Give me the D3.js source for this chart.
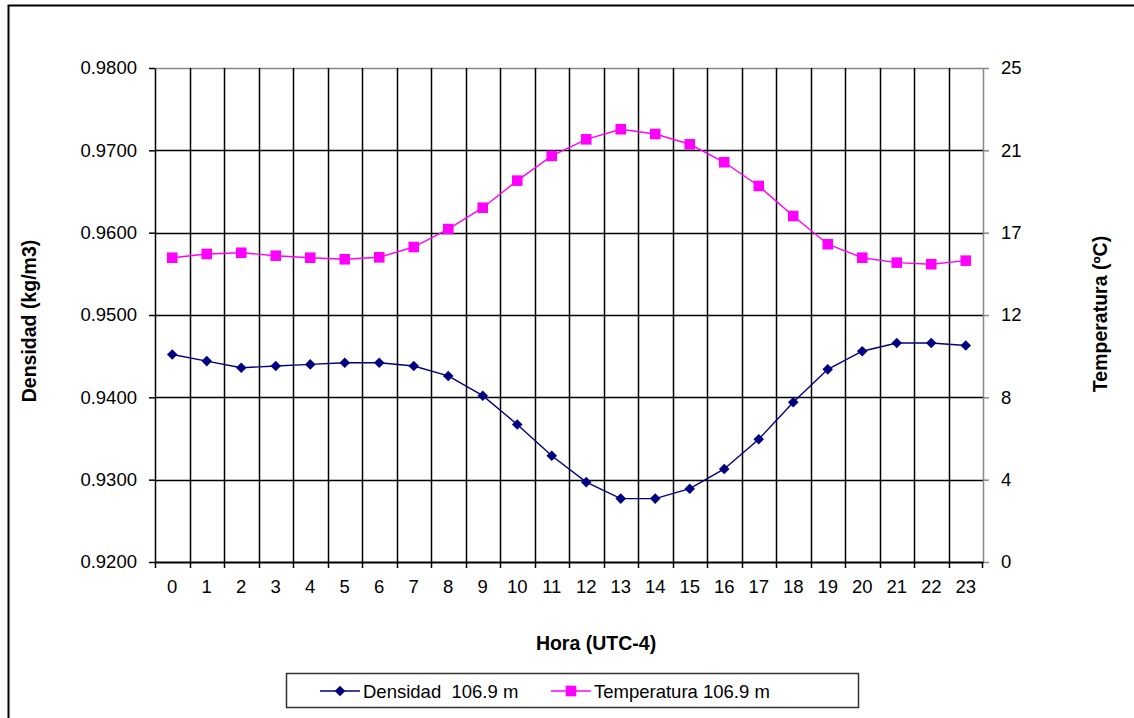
<!doctype html>
<html>
<head>
<meta charset="utf-8">
<style>
    body { margin: 0; background: #fff; font-family: 'Liberation Sans', Arial, sans-serif; }
    svg text { fill: #000; font-family: 'Liberation Sans', Arial, sans-serif; }
    .title { font-size: 19.5px; font-weight: bold; }
    .legend text { font-size: 18.5px; }
</style>
<script src="https://d3js.org/d3.v7.min.js"></script>
</head>
<body>
<svg width="1134" height="718"></svg>
<script>
    // hours 0..23
    const hours = d3.range(0, 24);
    const densidad = [0.9452, 0.9444, 0.9436, 0.9438, 0.9440, 0.9442, 0.9442, 0.9438, 0.9426,
        0.9402, 0.9367, 0.9329, 0.9297, 0.9277, 0.9277, 0.9289, 0.9313, 0.9349,
        0.9394, 0.9434, 0.9456, 0.9466, 0.9466, 0.9463];
    const temperatura = [15.40, 15.59, 15.65, 15.50, 15.40, 15.32, 15.42, 15.94, 16.85,
        17.93, 19.30, 20.55, 21.39, 21.90, 21.66, 21.14, 20.23, 19.03,
        17.51, 16.08, 15.40, 15.15, 15.07, 15.25];
    const leftTicks = [0.92, 0.93, 0.94, 0.95, 0.96, 0.97, 0.98];
    // right axis: 25/6 steps, Excel shows them rounded
    const rightTicks = [0, 25 / 6, 50 / 6, 75 / 6, 100 / 6, 125 / 6, 25];
    const rightLabels = ['0', '4', '8', '12', '17', '21', '25'];

    const svg = d3.select('svg');
    const pLeft = 155, pRight = 983, pTop = 68, pBottom = 562;

    // outer frame (cut off on the right and bottom)
    svg.append('rect')
        .attr('x', 8.5).attr('y', 5.5)
        .attr('width', 1140).attr('height', 730)
        .attr('fill', 'none').attr('stroke', '#000').attr('stroke-width', 2);

    const x = d3.scaleBand().domain(hours).range([pLeft, pRight]);
    const yL = d3.scaleLinear().domain([0.92, 0.98]).range([pBottom, pTop]);
    const yR = d3.scaleLinear().domain([0, 25]).range([pBottom, pTop]);

    // horizontal grid
    svg.append('g')
        .selectAll('line')
        .data(leftTicks.slice(1, -1))
        .join('line')
        .attr('x1', pLeft).attr('x2', pRight)
        .attr('y1', d => Math.round(yL(d)) + 0.5).attr('y2', d => Math.round(yL(d)) + 0.5)
        .attr('stroke', '#000').attr('stroke-width', 1.5);
    svg.append('line')
        .attr('x1', pLeft).attr('x2', pRight)
        .attr('y1', pTop + 0.5).attr('y2', pTop + 0.5)
        .attr('stroke', '#888').attr('stroke-width', 1.5);

    // vertical grid at category boundaries
    svg.append('g')
        .selectAll('line')
        .data(hours.slice(1))
        .join('line')
        .attr('x1', d => Math.round(x(d)) + 0.5).attr('x2', d => Math.round(x(d)) + 0.5)
        .attr('y1', pTop).attr('y2', pBottom + 6)
        .attr('stroke', '#000').attr('stroke-width', 1.5);

    // left axis
    const axL = svg.append('g')
        .attr('transform', `translate(${pLeft},0)`)
        .call(d3.axisLeft(yL).tickValues(leftTicks).tickFormat(d3.format('.4f')).tickSizeInner(6).tickSizeOuter(0).tickPadding(12));
    axL.selectAll('path, line').attr('stroke', '#000').attr('stroke-width', 1.5);

    // right axis
    const axR = svg.append('g')
        .attr('transform', `translate(${pRight},0)`)
        .call(d3.axisRight(yR).tickValues(rightTicks).tickFormat((d, i) => rightLabels[i]).tickSizeInner(6).tickSizeOuter(0).tickPadding(12));
    axR.selectAll('path, line').attr('stroke', '#888').attr('stroke-width', 1.5);

    // bottom axis
    const axB = svg.append('g')
        .attr('transform', `translate(0,${pBottom})`)
        .call(d3.axisBottom(x).tickSize(0).tickPadding(18));
    axB.select('path').attr('stroke', '#000').attr('stroke-width', 2);
    axB.selectAll('.edge')
        .data([pLeft + 0.5, pRight - 0.5])
        .join('line')
        .attr('x1', d => d).attr('x2', d => d).attr('y1', 0).attr('y2', 6)
        .attr('stroke', '#000').attr('stroke-width', 1.5);

    svg.selectAll('.tick text').attr('fill', '#000')
        .style('font-size', '18.5px')
        .style('font-family', "'Liberation Sans', Arial, sans-serif");

    // axis titles
    svg.append('text').attr('class', 'title')
        .attr('transform', `translate(36,321) rotate(-90)`)
        .attr('text-anchor', 'middle').text('Densidad (kg/m3)');
    svg.append('text').attr('class', 'title')
        .attr('transform', `translate(1107,314) rotate(-90)`)
        .attr('text-anchor', 'middle').text('Temperatura (ºC)');
    svg.append('text').attr('class', 'title')
        .attr('x', 596).attr('y', 650)
        .attr('text-anchor', 'middle').text('Hora (UTC-4)');

    const cx = d => x(d) + x.bandwidth() / 2;
    const diamond = d3.symbol().type(d3.symbolSquare).size(56);
    const square = d3.symbol().type(d3.symbolSquare).size(112);

    // temperature series
    svg.append('path')
        .datum(hours)
        .attr('fill', 'none').attr('stroke', '#ff00ff').attr('stroke-width', 1.4)
        .attr('d', d3.line().x(cx).y(d => yR(temperatura[d])));
    svg.append('g').selectAll('path')
        .data(hours).join('path')
        .attr('d', square)
        .attr('transform', d => `translate(${cx(d)},${yR(temperatura[d])})`)
        .attr('fill', '#ff00ff');

    // density series
    svg.append('path')
        .datum(hours)
        .attr('fill', 'none').attr('stroke', '#000080').attr('stroke-width', 1.4)
        .attr('d', d3.line().x(cx).y(d => yL(densidad[d])));
    svg.append('g').selectAll('path')
        .data(hours).join('path')
        .attr('d', diamond)
        .attr('transform', d => `translate(${cx(d)},${yL(densidad[d])}) rotate(45)`)
        .attr('fill', '#000080');

    // legend
    const lg = svg.append('g').attr('class', 'legend');
    lg.append('rect')
        .attr('x', 286.5).attr('y', 673.5).attr('width', 572).attr('height', 34)
        .attr('fill', '#fff').attr('stroke', '#333').attr('stroke-width', 1.5);
    const items = [
        { name: 'Densidad\u00a0\u00a0106.9 m', color: '#000080', sym: diamond, rot: 45, x0: 320 },
        { name: 'Temperatura 106.9 m', color: '#ff00ff', sym: square, rot: 0, x0: 551 }
    ];
    items.forEach(it => {
        lg.append('line')
            .attr('x1', it.x0).attr('x2', it.x0 + 40).attr('y1', 691).attr('y2', 691)
            .attr('stroke', it.color).attr('stroke-width', 1.5);
        lg.append('path')
            .attr('d', it.sym)
            .attr('transform', `translate(${it.x0 + 20},691) rotate(${it.rot})`)
            .attr('fill', it.color);
        lg.append('text')
            .attr('x', it.x0 + 43).attr('y', 698)
            .text(it.name);
    });
</script>
</body>
</html>
